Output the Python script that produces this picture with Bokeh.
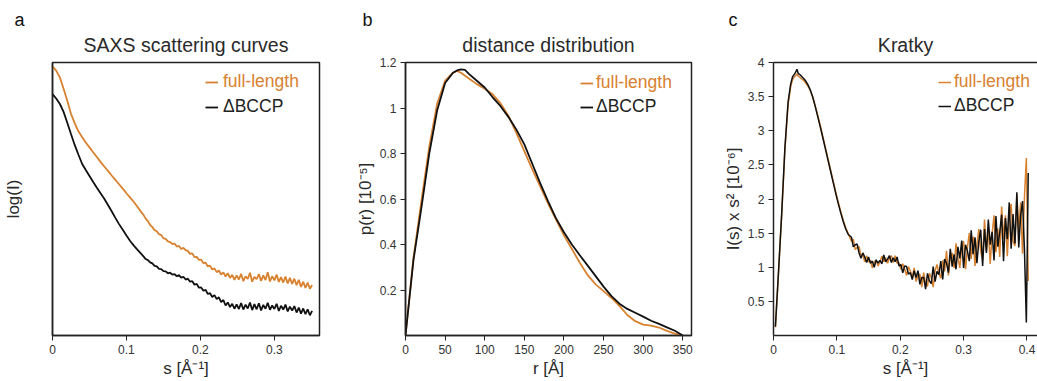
from bokeh.plotting import figure
from bokeh.layouts import row
from bokeh.models import Range1d, FixedTicker, Legend, LegendItem, Title, LinearAxis
from bokeh.embed import file_html
from bokeh.resources import INLINE

ORANGE = "#D8812F"
BLACK = "#111111"
FONT = "Liberation Sans"
TXT = "#2a2a2a"

# ---------------- panel a: SAXS scattering curves (log I, arbitrary units)
saxs_s = [0.000, 0.005, 0.010, 0.015, 0.020, 0.025, 0.030, 0.035, 0.040, 0.045,
          0.050, 0.055, 0.060, 0.065, 0.070, 0.075, 0.080, 0.085, 0.090, 0.095,
          0.100, 0.105, 0.110, 0.115, 0.120,
          0.123, 0.126, 0.129, 0.132, 0.135, 0.138, 0.141, 0.144, 0.147, 0.150,
          0.153, 0.156, 0.159, 0.162, 0.165, 0.168, 0.171, 0.174, 0.177, 0.180,
          0.183, 0.186, 0.189, 0.192, 0.195, 0.198, 0.201, 0.204, 0.207, 0.210,
          0.213, 0.216, 0.219, 0.222, 0.225, 0.228, 0.231, 0.234, 0.237, 0.240,
          0.243, 0.246, 0.249, 0.252, 0.255, 0.258, 0.261, 0.264, 0.267, 0.270,
          0.273, 0.276, 0.279, 0.282, 0.285, 0.288, 0.291, 0.294, 0.297, 0.300,
          0.303, 0.306, 0.309, 0.312, 0.315, 0.318, 0.321, 0.324, 0.327, 0.330,
          0.333, 0.336, 0.339, 0.342, 0.345, 0.348, 0.351]
saxs_full = [9.86, 9.70, 9.45, 9.04, 8.60, 8.12, 7.78, 7.48, 7.27, 7.07,
             6.89, 6.71, 6.54, 6.36, 6.19, 6.03, 5.86, 5.70, 5.54, 5.38,
             5.21, 5.05, 4.89, 4.71, 4.52,
             4.42, 4.28, 4.19, 4.05, 3.97, 3.86, 3.82, 3.71, 3.68, 3.56,
             3.54, 3.45, 3.42, 3.35, 3.37, 3.26, 3.28, 3.17, 3.21, 3.13,
             3.10, 2.99, 3.01, 2.87, 2.88, 2.77, 2.78, 2.65, 2.67, 2.53,
             2.56, 2.42, 2.46, 2.32, 2.38, 2.23, 2.31, 2.16, 2.28, 2.11,
             2.22, 2.04, 2.20, 2.05, 2.26, 1.99, 2.17, 2.07, 2.30, 1.97,
             2.15, 2.06, 2.25, 2.00, 2.20, 2.03, 2.32, 1.98, 2.17, 2.02,
             2.23, 1.96, 2.14, 1.94, 2.16, 1.91, 2.11, 1.89, 2.08, 1.84,
             2.04, 1.78, 1.97, 1.74, 1.94, 1.71, 1.85]
saxs_dbccp = [8.84, 8.68, 8.48, 8.19, 7.79, 7.38, 6.98, 6.63, 6.29, 6.06,
              5.84, 5.62, 5.41, 5.21, 5.01, 4.78, 4.55, 4.31, 4.08, 3.87,
              3.66, 3.46, 3.29, 3.14, 2.99,
              2.90, 2.80, 2.76, 2.68, 2.64, 2.55, 2.53, 2.44, 2.43, 2.36,
              2.35, 2.28, 2.30, 2.23, 2.25, 2.17, 2.21, 2.12, 2.15, 2.05,
              2.08, 1.97, 1.99, 1.86, 1.89, 1.75, 1.76, 1.64, 1.67, 1.52,
              1.55, 1.41, 1.48, 1.33, 1.40, 1.22, 1.30, 1.10, 1.21, 1.04,
              1.16, 0.98, 1.14, 0.97, 1.19, 0.95, 1.13, 0.99, 1.21, 0.93,
              1.15, 0.96, 1.18, 0.92, 1.12, 0.98, 1.20, 0.94, 1.10, 0.97,
              1.16, 0.90, 1.09, 0.95, 1.13, 0.88, 1.06, 0.91, 1.08, 0.84,
              1.02, 0.80, 0.99, 0.78, 0.96, 0.74, 0.90]
saxs_ticks = [0, 0.1, 0.2, 0.3]
saxs_tick_labels = ["0", "0.1", "0.2", "0.3"]

# ---------------- panel b: distance distribution p(r)
r_full = [0, 10, 20, 30, 40, 50, 60, 65, 70, 80, 90, 100, 110, 120, 130, 140, 150,
          160, 170, 180, 190, 200, 210, 220, 230, 240, 250, 260, 270, 280, 290,
          300, 310, 320, 330, 340, 350]
p_full = [0.0, 0.34, 0.59, 0.83, 1.02, 1.12, 1.155, 1.163, 1.155, 1.13, 1.105,
          1.085, 1.06, 1.02, 0.965, 0.89, 0.81, 0.73, 0.655, 0.58, 0.51, 0.44,
          0.38, 0.32, 0.265, 0.225, 0.195, 0.165, 0.13, 0.09, 0.063, 0.048,
          0.043, 0.035, 0.02, 0.008, 0.0]
r_dbccp = [0, 10, 20, 30, 40, 50, 60, 65, 70, 75, 80, 90, 100, 110, 120, 130, 140,
           150, 160, 170, 180, 190, 200, 210, 220, 230, 240, 250, 260, 270, 280,
           290, 300, 310, 320, 330, 340, 350]
p_dbccp = [0.0, 0.33, 0.56, 0.80, 0.99, 1.11, 1.155, 1.165, 1.170, 1.168, 1.15,
           1.12, 1.09, 1.047, 1.008, 0.96, 0.905, 0.84, 0.755, 0.67, 0.59, 0.515,
           0.454, 0.40, 0.353, 0.307, 0.261, 0.215, 0.173, 0.14, 0.117, 0.10,
           0.083, 0.065, 0.051, 0.036, 0.021, 0.0]
pr_xticks = [0, 50, 100, 150, 200, 250, 300, 350]
pr_yticks = [0.2, 0.4, 0.6, 0.8, 1.0, 1.2]
pr_ytick_labels = ["0.2", "0.4", "0.6", "0.8", "1", "1.2"]

# ---------------- panel c: Kratky
kratky_s = [0.003, 0.008, 0.013, 0.018, 0.023, 0.027, 0.030, 0.033, 0.035, 0.037,
            0.039, 0.042, 0.046, 0.050, 0.054, 0.058, 0.062, 0.066, 0.070, 0.074,
            0.078, 0.082, 0.086, 0.090, 0.094, 0.098, 0.102, 0.106, 0.110, 0.114,
            0.118,
            0.123, 0.126, 0.129, 0.132, 0.135, 0.138, 0.141, 0.144, 0.147, 0.150,
            0.153, 0.156, 0.159, 0.162, 0.165, 0.168, 0.171, 0.174, 0.177, 0.180,
            0.183, 0.186, 0.189, 0.192, 0.195, 0.198, 0.201, 0.204, 0.207, 0.210,
            0.213, 0.216, 0.219, 0.222, 0.225, 0.228, 0.231, 0.234, 0.237, 0.240,
            0.243, 0.246, 0.249, 0.252, 0.255, 0.258, 0.261, 0.264, 0.267, 0.270,
            0.273, 0.276, 0.279, 0.282, 0.285, 0.288, 0.291, 0.294, 0.297, 0.300,
            0.303, 0.306, 0.309, 0.312, 0.315, 0.318, 0.321, 0.324, 0.327, 0.330,
            0.333, 0.336, 0.339, 0.342, 0.345, 0.348, 0.351, 0.354, 0.357, 0.360,
            0.363, 0.366, 0.369, 0.372, 0.375, 0.378, 0.381, 0.384, 0.387, 0.390,
            0.393, 0.396, 0.399, 0.402]
kratky_full = [0.12, 0.93, 1.78, 2.72, 3.38, 3.64, 3.75, 3.79, 3.81, 3.83,
               3.80, 3.78, 3.75, 3.71, 3.66, 3.59, 3.49, 3.36, 3.22, 3.07,
               2.91, 2.75, 2.59, 2.43, 2.27, 2.11, 1.96, 1.82, 1.69, 1.58,
               1.49,
               1.38, 1.41, 1.26, 1.29, 1.30, 1.17, 1.18, 1.08, 1.17, 1.08,
               1.10, 0.99, 1.08, 1.10, 1.02, 1.08, 1.16, 1.08, 1.14, 1.06,
               1.14, 1.17, 1.07, 1.17, 1.06, 1.07, 0.97, 1.05, 0.97, 0.88,
               1.01, 0.94, 0.85, 0.99, 0.79, 0.87, 0.90, 0.71, 0.92, 0.76,
               0.72, 0.91, 0.85, 0.71, 0.95, 1.04, 0.91, 0.84, 1.10, 0.94,
               1.24, 0.88, 1.15, 1.21, 0.99, 1.35, 1.14, 0.99, 1.29, 1.38,
               0.97, 1.29, 1.50, 1.12, 1.45, 1.02, 1.33, 1.56, 1.23, 1.11,
               1.70, 1.24, 1.56, 1.05, 1.49, 1.76, 1.22, 1.57, 1.15, 1.89,
               1.42, 1.76, 1.16, 1.73, 1.93, 1.38, 1.31, 2.06, 1.52, 1.95,
               1.20, 2.03, 2.60, 0.80]
kratky_dbccp = [0.13, 0.95, 1.80, 2.75, 3.42, 3.68, 3.79, 3.83, 3.86, 3.90,
                3.84, 3.82, 3.78, 3.74, 3.68, 3.60, 3.49, 3.35, 3.20, 3.05,
                2.89, 2.73, 2.57, 2.41, 2.25, 2.09, 1.94, 1.80, 1.67, 1.56,
                1.48,
                1.44, 1.30, 1.33, 1.34, 1.21, 1.13, 1.21, 1.15, 1.07, 1.15,
                1.06, 1.09, 1.00, 1.11, 1.06, 1.10, 1.05, 1.18, 1.08, 1.12,
                1.17, 1.07, 1.14, 1.08, 1.15, 1.02, 1.04, 0.92, 1.02, 1.01,
                0.90, 0.92, 0.82, 0.95, 0.85, 0.95, 0.75, 0.85, 0.85, 0.68,
                0.91, 0.80, 0.76, 1.01, 0.79, 0.94, 0.89, 1.09, 0.82, 1.12,
                1.06, 0.92, 1.27, 1.01, 1.19, 0.97, 1.30, 1.13, 1.39, 0.99,
                1.33, 1.24, 1.09, 1.54, 1.19, 1.44, 1.06, 1.38, 1.55, 1.02,
                1.56, 1.21, 1.70, 1.33, 1.52, 1.10, 1.75, 1.30, 1.51, 1.77,
                1.09, 1.72, 1.41, 1.95, 1.27, 1.78, 1.35, 2.10, 1.29, 1.76,
                1.97, 1.26, 0.19, 2.38]
kr_xticks = [0, 0.1, 0.2, 0.3, 0.4]
kr_xtick_labels = ["0", "0.1", "0.2", "0.3", "0.4"]
kr_yticks = [0.5, 1.0, 1.5, 2.0, 2.5, 3.0, 3.5, 4.0]
kr_ytick_labels = ["0.5", "1", "1.5", "2", "2.5", "3", "3.5", "4"]

series_names = ["full-length", "\u0394BCCP"]

H = 381


def make_fig(width, left, right, xr, yr, outline=True):
    p = figure(width=width, height=H, output_backend="svg", toolbar_location=None,
               title_location=None,
               x_range=xr, y_range=yr, min_border_left=left, min_border_right=right,
               min_border_top=62, min_border_bottom=H - 335)
    p.grid.visible = False
    p.background_fill_color = "white"
    p.border_fill_color = "white"
    p.outline_line_color = "#222222" if outline else None
    p.outline_line_width = 1.5
    for ax in (p.below[0], p.left[0]):
        ax.axis_line_color = "#222222"
        ax.axis_line_width = 1.5
        ax.major_tick_line_color = "#222222"
        ax.major_tick_in = 0
        ax.major_tick_out = 5
        ax.minor_tick_line_color = None
        ax.major_label_text_font = FONT
        ax.major_label_text_font_size = "12px"
        ax.major_label_text_color = "#333333"
        ax.major_label_standoff = 4
        ax.axis_label_text_font = FONT
        ax.axis_label_text_font_size = "17px"
        ax.axis_label_text_font_style = "normal"
        ax.axis_label_text_color = TXT
        ax.axis_label_standoff = 2
    return p


def set_ticks(ax, ticks, labels):
    ax.ticker = FixedTicker(ticks=ticks)
    ax.major_label_overrides = {t: l for t, l in zip(ticks, labels)}


def add_titles(p, text, letter, letter_offset):
    p.add_layout(Title(text=text, align="center", text_font=FONT, text_font_size="19.5px",
                       text_font_style="normal", text_color=TXT, standoff=9,
                       vertical_align="top"), "above")
    p.add_layout(Title(text=letter, align="left", offset=letter_offset, text_font=FONT,
                       text_font_size="18px", text_font_style="normal",
                       text_color="#111111", standoff=0), "above")


def add_legends(p, renderers, colors, x, ys, glyph_w, standoff):
    for r, name, c, y in zip(renderers, series_names, colors, ys):
        lg = Legend(items=[LegendItem(label=name, renderers=[r])], location=(x, y),
                    label_text_color=c, label_text_font=FONT, label_text_font_size="17.5px",
                    glyph_width=glyph_w, glyph_height=20, label_height=20,
                    label_standoff=standoff, padding=0, margin=0, spacing=0,
                    border_line_color=None, background_fill_alpha=0)
        p.add_layout(lg)


# ---- a
pa = make_fig(340, 51, 21, Range1d(0, 0.361), Range1d(0, 10))
ra1 = pa.line(saxs_s, saxs_full, line_color=ORANGE, line_width=1.8)
ra2 = pa.line(saxs_s, saxs_dbccp, line_color=BLACK, line_width=1.8)
set_ticks(pa.below[0], saxs_ticks, saxs_tick_labels)
pa.left[0].ticker = FixedTicker(ticks=[])
pa.left[0].major_tick_out = 0
pa.left[0].axis_label_standoff = 30
pa.below[0].axis_label = "s [\u00c5\u207b\u00b9]"
pa.left[0].axis_label = "log(I)"
add_titles(pa, "SAXS scattering curves", "a", -38)
add_legends(pa, [ra1, ra2], [ORANGE, "#222222"], 153, [243, 218], 13, 5)

# ---- b
pb = make_fig(360, 65, 9, Range1d(0, 361), Range1d(0, 1.2))
rb1 = pb.line(r_full, p_full, line_color=ORANGE, line_width=1.8)
rb2 = pb.line(r_dbccp, p_dbccp, line_color=BLACK, line_width=1.8)
set_ticks(pb.below[0], pr_xticks, [str(t) for t in pr_xticks])
set_ticks(pb.left[0], pr_yticks, pr_ytick_labels)
pb.below[0].axis_label = "r [\u00c5]"
pb.left[0].axis_label = "p(r) [10\u207b\u2075]"
add_titles(pb, "distance distribution", "b", -43)
add_legends(pb, [rb1, rb2], [ORANGE, "#222222"], 175, [242, 218], 13, 3)

# ---- c
pc = make_fig(337, 73, 0, Range1d(0, 0.4166), Range1d(0, 4), outline=False)
top = LinearAxis(ticker=FixedTicker(ticks=[]), major_tick_out=0, major_tick_in=0,
                 major_label_standoff=0, major_label_text_font_size="0px",
                 axis_line_color="#222222", axis_line_width=1.5)
pc.add_layout(top, "above")
rc1 = pc.line(kratky_s, kratky_full, line_color=ORANGE, line_width=1.5)
rc2 = pc.line(kratky_s, kratky_dbccp, line_color=BLACK, line_width=1.5)
set_ticks(pc.below[0], kr_xticks, kr_xtick_labels)
set_ticks(pc.left[0], kr_yticks, kr_ytick_labels)
pc.below[0].axis_label = "s [\u00c5\u207b\u00b9]"
pc.left[0].axis_label = "I(s) x s\u00b2 [10\u207b\u2076]"
add_titles(pc, "Kratky", "c", -45)
add_legends(pc, [rc1, rc2], [ORANGE, "#222222"], 165, [243, 219], 13, 3)

layout = row(pa, pb, pc, spacing=0)
open("out.html", "w").write(file_html(layout, INLINE))
